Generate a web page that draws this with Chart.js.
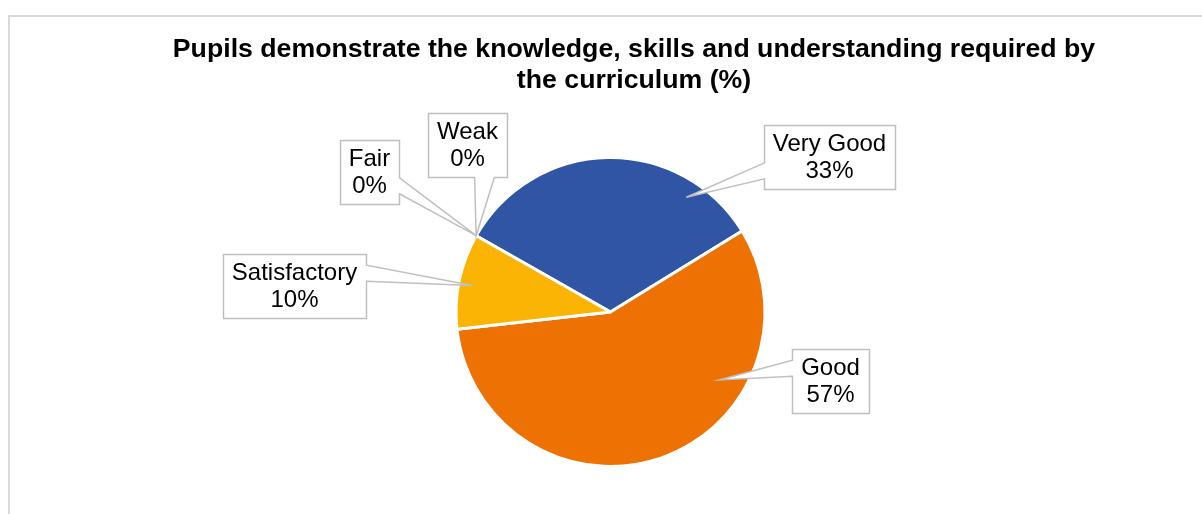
<!DOCTYPE html>
<html>
<head>
<meta charset="utf-8">
<script src="https://cdn.jsdelivr.net/npm/chart.js@4.4.0/dist/chart.umd.min.js"></script>
<style>
    html, body { margin: 0; padding: 0; background: #fff; overflow: hidden; }
    #wrap { position: relative; width: 1202px; height: 514px; }
    #frame { position: absolute; left: 8px; top: 15px; right: -10px; bottom: -10px; border: 2px solid #d9d9d9; }
    #pieChart { position: absolute; left: 0; top: 0; }
</style>
</head>
<body>
<div id="wrap">
    <div id="frame"></div>
    <canvas id="pieChart" width="1202" height="514"></canvas>
</div>
<script>
    var titleLines = ['Pupils demonstrate the knowledge, skills and understanding required by', 'the curriculum (%)'];
    var categories = ['Very Good', 'Good', 'Satisfactory', 'Fair', 'Weak'];
    var values = [33, 57, 10, 0, 0];
    var sliceColors = ['#2f55a4', '#ee7203', '#fbb404', '#a5a5a5', '#4472c4'];

    // callout boxes: box centre relative to pie centre, side the pointer leaves from,
    // and where the pointer lands inside the slice (t = share of the arc, f = share of radius)
    var callouts = [
        { dx: 219, dy: -155, side: 'left', t: 0.79, f: 0.89 },
        { dx: 220, dy: 69, side: 'left', t: 0.31, f: 0.83 },
        { dx: -316, dy: -26, side: 'right', t: 0.48, f: 0.91 },
        { dx: -241, dy: -140, side: 'right', t: 0.5, f: 1.0 },
        { dx: -143, dy: -167, side: 'bottom', t: 0.5, f: 1.0 }
    ];

    var labelFont = '24px "Liberation Sans", Arial, sans-serif';
    var titleFont = 'bold 26.7px "Liberation Sans", Arial, sans-serif';

    function drawCallout(ctx, c, cx, cy, tx, ty, lines) {
        ctx.font = labelFont;
        var w = 0;
        lines.forEach(function (l) { w = Math.max(w, ctx.measureText(l).width); });
        w += 18;
        var lh = 27;
        var h = lines.length * lh + 10;
        var bx = cx + c.dx, by = cy + c.dy;
        var x0 = Math.round(bx - w / 2) + 0.5, x1 = Math.round(bx + w / 2) + 0.5;
        var y0 = Math.round(by - h / 2) + 0.5, y1 = Math.round(by + h / 2) + 0.5;

        var vertical = (c.side === 'left' || c.side === 'right');
        var s0 = vertical ? y0 : x0;
        var len = vertical ? (y1 - y0) : (x1 - x0);
        var mid = s0 + len / 2;
        var tc = vertical ? ty : tx;
        var b0, b1;
        if (tc < mid) { b0 = s0 + len / 6; b1 = s0 + len * 5 / 12; }
        else { b0 = s0 + len * 7 / 12; b1 = s0 + len * 5 / 6; }

        ctx.beginPath();
        ctx.moveTo(x0, y0);
        ctx.lineTo(x1, y0);
        if (c.side === 'right') { ctx.lineTo(x1, b0); ctx.lineTo(tx, ty); ctx.lineTo(x1, b1); }
        ctx.lineTo(x1, y1);
        if (c.side === 'bottom') { ctx.lineTo(b1, y1); ctx.lineTo(tx, ty); ctx.lineTo(b0, y1); }
        ctx.lineTo(x0, y1);
        if (c.side === 'left') { ctx.lineTo(x0, b1); ctx.lineTo(tx, ty); ctx.lineTo(x0, b0); }
        ctx.closePath();
        ctx.fillStyle = '#ffffff';
        ctx.fill();
        ctx.strokeStyle = '#bfbfbf';
        ctx.lineWidth = 1.5;
        ctx.stroke();

        ctx.fillStyle = '#000000';
        ctx.textAlign = 'center';
        ctx.textBaseline = 'middle';
        lines.forEach(function (l, i) {
            ctx.fillText(l, bx, by - (lines.length - 1) * lh / 2 + i * lh + 1);
        });
    }

    var calloutPlugin = {
        id: 'callouts',
        afterDatasetsDraw: function (chart) {
            var ctx = chart.ctx;
            var meta = chart.getDatasetMeta(0);
            var total = values.reduce(function (a, b) { return a + b; }, 0);
            ctx.save();
            meta.data.forEach(function (arc, i) {
                var c = callouts[i];
                var a = arc.startAngle + c.t * (arc.endAngle - arc.startAngle);
                var r = c.f * arc.outerRadius;
                var tx = arc.x + Math.cos(a) * r;
                var ty = arc.y + Math.sin(a) * r;
                var pct = Math.round(values[i] / total * 100) + '%';
                drawCallout(ctx, c, arc.x, arc.y, tx, ty, [categories[i], pct]);
            });
            ctx.restore();
        }
    };

    var titlePlugin = {
        id: 'pageTitle',
        afterDraw: function (chart) {
            var ctx = chart.ctx;
            ctx.save();
            ctx.font = titleFont;
            ctx.fillStyle = '#000000';
            ctx.textAlign = 'center';
            ctx.textBaseline = 'alphabetic';
            titleLines.forEach(function (l, i) {
                ctx.fillText(l, 634, 57 + i * 31);
            });
            ctx.restore();
        }
    };

    var ctx = document.getElementById('pieChart').getContext('2d');
    var myChart = new Chart(ctx, {
        type: 'pie',
        data: {
            labels: categories,
            datasets: [{
                data: values,
                backgroundColor: sliceColors,
                borderColor: '#ffffff',
                borderWidth: 3,
                radius: 154.5
            }]
        },
        options: {
            responsive: false,
            animation: false,
            rotation: -60.4,
            layout: { padding: { left: 19, right: 0, top: 110, bottom: 0 } },
            plugins: {
                legend: { display: false },
                title: { display: false },
                tooltip: { enabled: false }
            }
        },
        plugins: [calloutPlugin, titlePlugin]
    });
</script>
</body>
</html>
